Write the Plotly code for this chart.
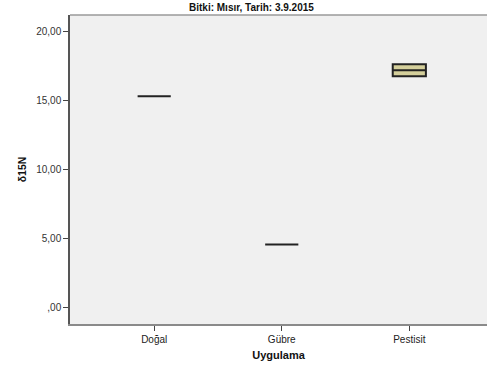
import plotly.graph_objects as go

# Box statistics per treatment (δ15N)
categories = ["Doğal", "Gübre", "Pestisit"]
q1 = [15.27, 4.53, 16.72]
median = [15.27, 4.53, 17.15]
q3 = [15.27, 4.53, 17.59]
lower = [15.27, 4.53, 16.72]
upper = [15.27, 4.53, 17.59]

tick_vals = [0, 5, 10, 15, 20]
tick_text = [",00", "5,00", "10,00", "15,00", "20,00"]

fig = go.Figure()
fig.add_trace(go.Box(
    x=categories,
    q1=q1, median=median, q3=q3,
    lowerfence=lower, upperfence=upper,
    width=0.26,
    fillcolor="#d4cf9b",
    line=dict(color="#222", width=2),
    whiskerwidth=0,
    boxpoints=False,
    showlegend=False,
    hoverinfo="skip",
))

font = "Liberation Sans, Arial, sans-serif"
fig.update_layout(
    width=488, height=374,
    margin=dict(l=70, r=1, t=15, b=50),
    paper_bgcolor="white",
    plot_bgcolor="#f0f0f0",
    font=dict(family=font, size=10, color="#222"),
    xaxis=dict(
        range=[-0.66, 2.609],
        showline=True, linecolor="#8a8a8a", linewidth=1.5, mirror=False,
        ticks="outside", ticklen=5, tickcolor="#444",
        showgrid=False, zeroline=False,
        tickfont=dict(size=10, color="#222"),
        title=dict(text="<b>Uygulama</b>", font=dict(size=11, color="#111"), standoff=8),
    ),
    yaxis=dict(
        range=[-1.23, 21.16],
        tickvals=tick_vals, ticktext=tick_text,
        showline=True, linecolor="#555", linewidth=1.5, mirror=False,
        ticks="outside", ticklen=5, tickcolor="#444",
        showgrid=False, zeroline=False,
        tickfont=dict(size=10, color="#333"),
        title=dict(text="<b>δ15N</b>", font=dict(size=10.5, color="#111"), standoff=8),
    ),
    # top frame line of the plot area
    shapes=[dict(type="line", xref="paper", yref="paper", x0=0, x1=1, y0=1, y1=1,
                 line=dict(color="#9a9a9a", width=1.5))],
    annotations=[dict(
        text="<b>Bitki: Mısır, Tarih: 3.9.2015</b>",
        xref="paper", yref="paper", x=0.435, y=1.0, yshift=8,
        xanchor="center", yanchor="middle", showarrow=False,
        font=dict(size=10, color="#111", family=font),
    )],
)

fig.write_html("out.html", config={"displayModeBar": False})
